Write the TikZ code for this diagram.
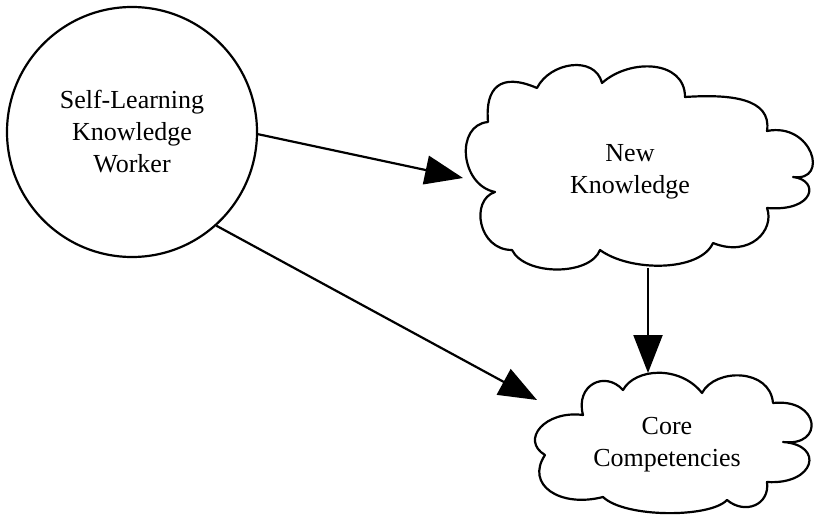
\documentclass[tikz,border=0pt]{standalone}
\usepackage{fontspec}
\setmainfont{Liberation Serif}
\usetikzlibrary{arrows.meta}
\begin{document}
\begin{tikzpicture}[x=1pt,y=-1pt,
  outline/.style={line width=2.2pt, line join=round},
  txt/.style={align=center, font=\fontsize{26}{32}\selectfont, inner sep=0pt},
  arr/.style={line width=2.2pt, -{Triangle[length=38pt,width=29pt]}}]
\useasboundingbox (0,0) rectangle (816,516);

% the worker
\node[circle, draw, line width=2.2pt, minimum size=250pt, inner sep=0pt, txt]
  (sl) at (132,132) {Self-Learning\\Knowledge\\Worker};

% cloud: new knowledge (puffs traced clockwise from the upper left dip)
\draw[outline] (488,122)
  .. controls (485,88) and (500,72) .. (537,88)
  .. controls (550,62) and (595,55) .. (602,83)
  .. controls (630,58) and (685,60) .. (685,97)
  .. controls (730,94) and (772,98) .. (767,131)
  .. controls (812,122) and (830,182) .. (793,177)
  .. controls (820,180) and (815,212) .. (767,208)
  .. controls (775,230) and (750,258) .. (713,243)
  .. controls (700,272) and (630,272) .. (600,250)
  .. controls (590,276) and (525,276) .. (512,250)
  .. controls (478,250) and (470,200) .. (495,192)
  .. controls (460,185) and (455,125) .. (488,122) -- cycle;
\node[txt] (nk) at (630,172) {New\\Knowledge};

% cloud: core competencies
\draw[outline] (583,415)
  .. controls (575,385) and (605,370) .. (623,390)
  .. controls (635,368) and (680,365) .. (702,393)
  .. controls (715,368) and (770,368) .. (773,403)
  .. controls (820,398) and (825,447) .. (783,442)
  .. controls (825,445) and (815,485) .. (767,482)
  .. controls (770,505) and (745,515) .. (727,500)
  .. controls (710,518) and (625,518) .. (603,497)
  .. controls (560,508) and (525,485) .. (545,455)
  .. controls (520,440) and (545,410) .. (583,415) -- cycle;
\node[txt] (cc) at (667,445) {Core\\Competencies};

% connector ends on the clouds
\coordinate (nkw) at (463,178);
\coordinate (nks) at (648,268);
\coordinate (cct) at (648,373);
\coordinate (ccw) at (537,400);

\draw[arr] (sl.-1) -- (nkw);
\draw[arr] (sl.-48) -- (ccw);
\draw[arr] (nks) -- (cct);
\end{tikzpicture}
\end{document}
